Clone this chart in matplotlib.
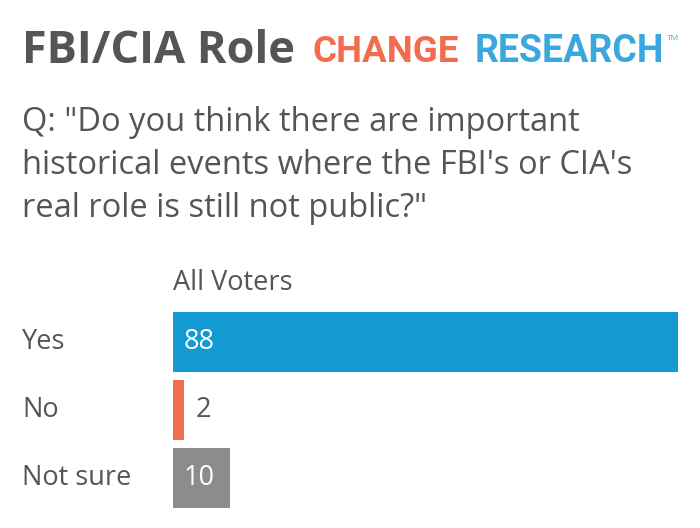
import matplotlib
matplotlib.use('Agg')
import matplotlib.pyplot as plt
import matplotlib.transforms as mtransforms

#------------------------------------------------------------------------------
#   Data
#------------------------------------------------------------------------------
title = 'FBI/CIA Role'
question_lines = ['Q: "Do you think there are important',
                  'historical events where the FBI\'s or CIA\'s',
                  'real role is still not public?"']
group_label = 'All Voters'
categories = ['Yes', 'No', 'Not sure']
values = [88, 2, 10]
bar_colors = ['#139ad3', '#f26d50', '#8c8c8c']

text_gray = '#555555'
plt.rcParams['font.family'] = ['Open Sans', 'DejaVu Sans']

#------------------------------------------------------------------------------
#   Figure
#------------------------------------------------------------------------------
W, H = 700, 528
fig = plt.figure(figsize=(W / 100, H / 100), dpi=100)

def fx(px):
    return px / W

def fy(px):
    return 1 - px / H

# title + logo
fig.text(fx(22), fy(63), title, fontsize=32.5, fontweight='bold', color=text_gray,
         va='baseline')
fig.text(fx(313), fy(62), 'CHANGE', fontsize=26.5, fontweight='bold', color='#f26d50',
         va='baseline', family=['Roboto', 'DejaVu Sans'])
fig.text(fx(475), fy(62), 'RESEARCH', fontsize=27, fontweight='bold', color='#3aa8dc',
         va='baseline', family=['Roboto', 'DejaVu Sans'])
fig.text(fx(667), fy(40), 'TM', fontsize=6, color='#3aa8dc', va='baseline')

# question, one line at a time
for i, line in enumerate(question_lines):
    fig.text(fx(22), fy(131 + 43 * i), line, fontsize=23.5, color=text_gray, va='baseline')

# bars
ax = fig.add_axes([fx(173), fy(508), 505 / W, 196 / H])
pitch = 68
bar_h = 60 / pitch
ypos = list(range(len(categories)))
ax.barh(ypos, values, height=bar_h, color=bar_colors)
ax.set_xlim(0, max(values))
ax.set_ylim(len(categories) - 1 + bar_h / 2, -bar_h / 2)
ax.axis('off')

fig.text(fx(173), fy(290), group_label, fontsize=19.5, color=text_gray, va='baseline')

label_tr = mtransforms.blended_transform_factory(fig.transFigure, ax.transData)
pad = mtransforms.ScaledTranslation(11 / 100, 0, fig.dpi_scale_trans)
for y, cat, v in zip(ypos, categories, values):
    ax.text(fx(22), y, cat, transform=label_tr, fontsize=19.5, color=text_gray, va='center')
    if v >= 5:
        ax.text(0, y, str(v), transform=ax.transData + pad, fontsize=19.5,
                color='white', va='center')
    else:
        ax.text(v, y, str(v), transform=ax.transData + pad, fontsize=19.5,
                color=text_gray, va='center')

fig.savefig('out.png', dpi=100)
